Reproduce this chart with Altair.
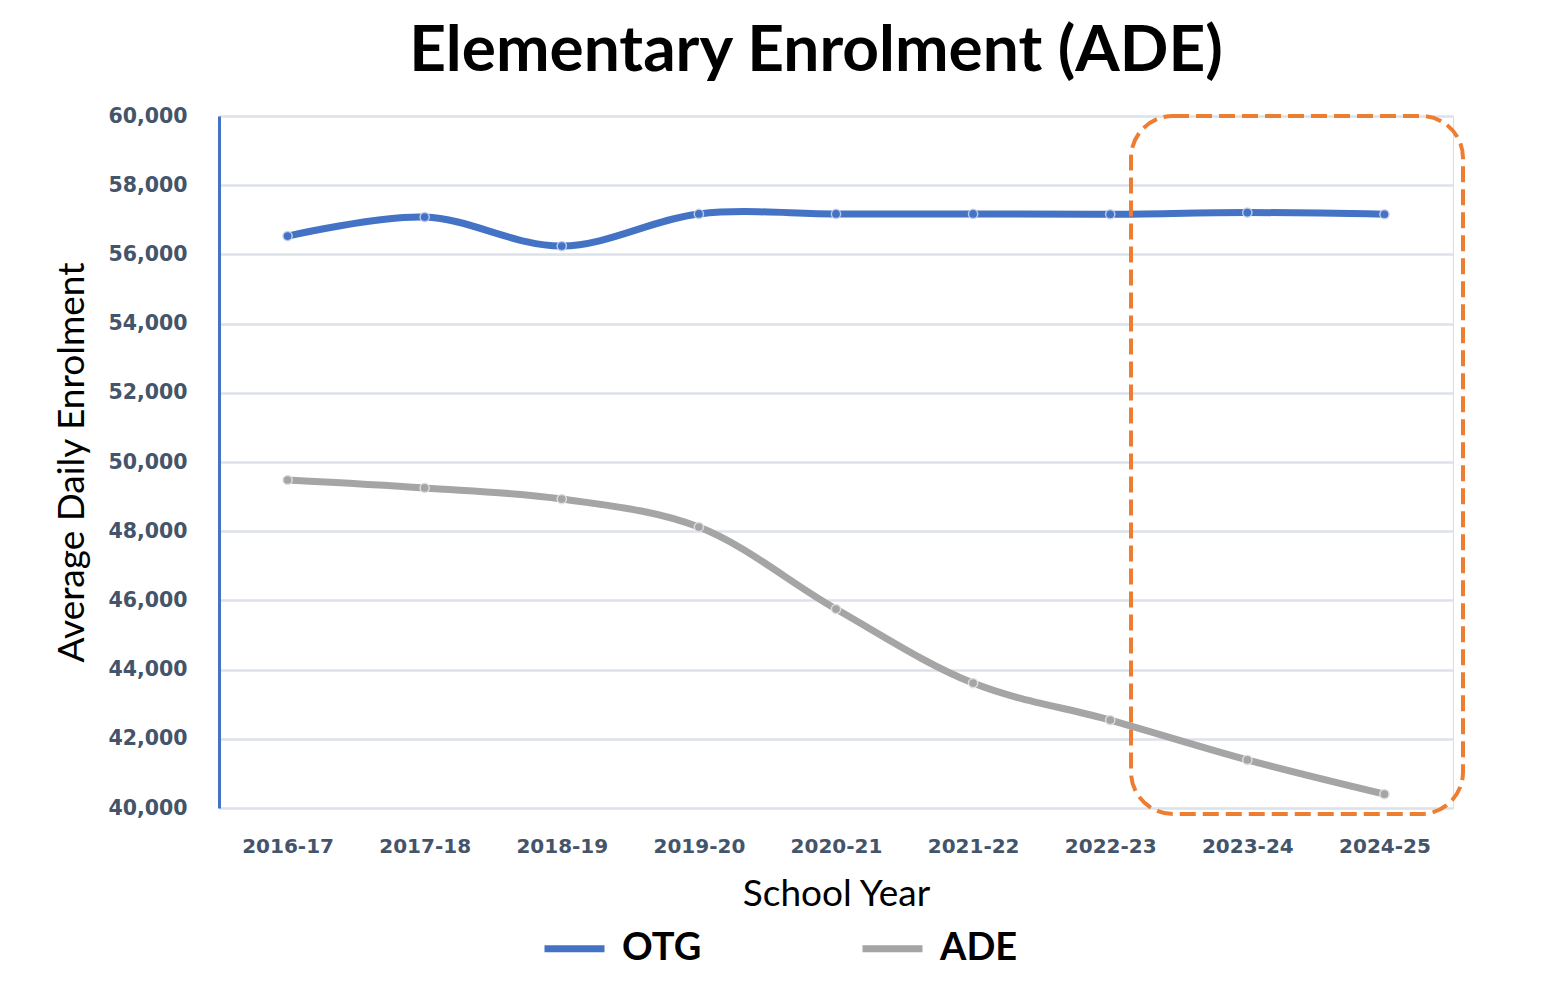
import altair as alt
import pandas as pd

years = ["2016-17", "2017-18", "2018-19", "2019-20", "2020-21",
         "2021-22", "2022-23", "2023-24", "2024-25"]
otg = [56530, 57080, 56240, 57170, 57170, 57170, 57160, 57210, 57160]
ade = [49480, 49250, 48930, 48120, 45750, 43610, 42540, 41390, 40400]
series = ["OTG", "ADE"]
colors = ["#4472C4", "#A5A5A5"]
halo = ["#C5D3EE", "#E2E2E2"]

rows = []
for name, vals in zip(series, [otg, ade]):
    for y, v in zip(years, vals):
        rows.append({"year": y, "value": v, "series": name})
df = pd.DataFrame(rows)

W, H = 1234, 692
FONT_N = "Lato"
FONT_B = "DejaVu Sans"

x = alt.X("year:N", sort=years, title="School Year",
          scale=alt.Scale(type="point", padding=0.5),
          axis=alt.Axis(labelAngle=0, labelFontSize=20, labelFont=FONT_B,
                        labelFontWeight="bold", labelColor="#44546A",
                        labelPadding=28, ticks=False, domain=False,
                        titleFont=FONT_N, titleFontSize=37,
                        titleFontWeight="normal", titleColor="#000000",
                        titlePadding=20, grid=False))
y = alt.Y("value:Q", title="Average Daily Enrolment",
          scale=alt.Scale(domain=[40000, 60000], nice=False, zero=False),
          axis=alt.Axis(values=list(range(40000, 60001, 2000)), format=",d",
                        labelFontSize=20.5, labelFont=FONT_B,
                        labelFontWeight="bold", labelColor="#44546A",
                        labelPadding=32, ticks=False,
                        domainColor="#4472C4", domainWidth=3,
                        gridColor="#DDE2EA", gridWidth=2.5,
                        titleFont=FONT_N, titleFontSize=37,
                        titleFontWeight="normal", titleColor="#000000",
                        titlePadding=16))
color = alt.Color("series:N", sort=series,
                  scale=alt.Scale(domain=series, range=colors),
                  legend=alt.Legend(title=None, orient="none",
                                    direction="horizontal",
                                    legendX=322, legendY=799,
                                    symbolType="stroke", symbolSize=3600,
                                    symbolStrokeWidth=7,
                                    labelFont=FONT_N, labelFontSize=38,
                                    labelFontWeight="bold",
                                    labelColor="#000000", labelOffset=14,
                                    columnPadding=146))

lines = alt.Chart(df).mark_line(strokeWidth=7, interpolate="catmull-rom").encode(
    x=x, y=y, color=color)
points = alt.Chart(df).mark_point(filled=True, size=85, opacity=1,
                                  strokeWidth=1.5, strokeOpacity=0.9).encode(
    x=x, y=y,
    color=alt.Color("series:N", scale=alt.Scale(domain=series, range=colors),
                    legend=None),
    stroke=alt.Stroke("series:N", scale=alt.Scale(domain=series, range=halo),
                      legend=None))

box = alt.Chart(pd.DataFrame({"k": [0]})).mark_rect(
    fill="transparent", stroke="#ED7D31", strokeWidth=4,
    strokeDash=[16, 7], cornerRadius=42).encode(
    x=alt.value(912), x2=alt.value(1244), y=alt.value(0), y2=alt.value(698))

chart = alt.layer(lines, points, box).resolve_scale(
    color="independent", stroke="independent"
).properties(
    width=W, height=H,
    title=alt.TitleParams("Elementary Enrolment (ADE)", font=FONT_N,
                          fontSize=64, fontWeight="bold", color="#000000",
                          anchor="middle", dx=-20, offset=22),
    autosize=alt.AutoSizeParams(type="none"),
    padding={"left": 211, "top": 108, "right": 100, "bottom": 170},
).configure_view(stroke=None).configure(background="#FFFFFF")

chart.save("out.html", embed_options={"renderer": "svg", "actions": False})
